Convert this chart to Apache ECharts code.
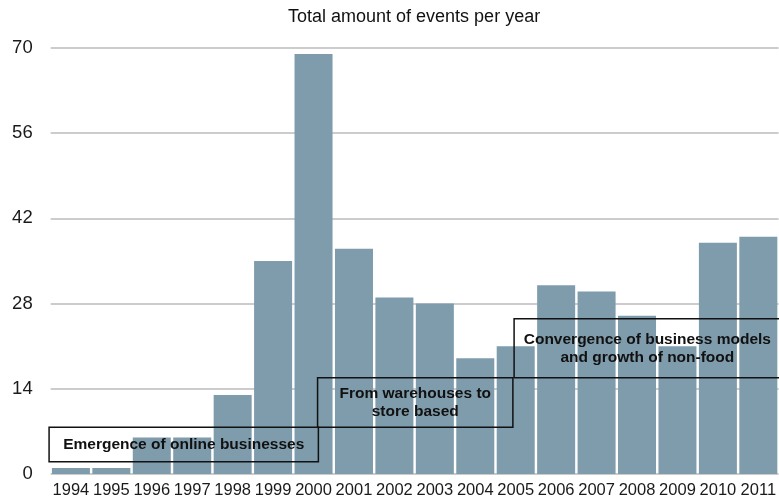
<!DOCTYPE html>
<html>
<head>
<meta charset="utf-8">
<script src="https://cdn.jsdelivr.net/npm/echarts@6/dist/echarts.min.js"></script>
<style>
  html, body { margin: 0; padding: 0; background: #fff; }
  #chart { width: 779px; height: 499px; }
</style>
</head>
<body>
<div id="chart"></div>
<script>
// Events per year
const years = ['1994','1995','1996','1997','1998','1999','2000','2001','2002','2003',
               '2004','2005','2006','2007','2008','2009','2010','2011'];
const events = [1, 1, 6, 6, 13, 35, 69, 37, 29, 28, 19, 21, 31, 30, 26, 21, 38, 39];
const yTicks = [0, 14, 28, 42, 56, 70];

// Phase boxes: span in category units (0 = centre of first year) and in event counts
const phaseLabels = [
  'Emergence of online businesses',
  'From warehouses to\nstore based',
  'Convergence of business models\nand growth of non-food'
];
const phaseStart = [-0.54, 6.1, 10.96];
const phaseEnd   = [6.12, 10.93, 17.55];
const phaseLow   = [2.0, 7.7, 15.8];
const phaseHigh  = [7.7, 15.8, 25.5];

const FONT = '"Liberation Sans", Arial, Helvetica, sans-serif';
const chart = echarts.init(document.getElementById('chart'), null, { renderer: 'canvas' });

chart.setOption({
  animation: false,
  backgroundColor: '#ffffff',
  title: {
    text: 'Total amount of events per year',
    left: 288,
    top: 8,
    padding: 0,
    textStyle: { fontFamily: FONT, fontSize: 18, fontWeight: 'normal', color: '#111', lineHeight: 18 }
  },
  grid: { left: 50.7, right: -2, top: 48, bottom: 25, containLabel: false },
  xAxis: {
    type: 'category',
    data: years,
    axisLine: { show: false },
    axisTick: { show: false },
    axisLabel: { fontFamily: FONT, fontSize: 16.5, color: '#1a1a1a', margin: 8, interval: 0 }
  },
  yAxis: {
    type: 'value',
    min: yTicks[0],
    max: yTicks[yTicks.length - 1],
    interval: yTicks[1] - yTicks[0],
    axisLine: { show: false },
    axisTick: { show: false },
    axisLabel: { fontFamily: FONT, fontSize: 18.5, color: '#1a1a1a', margin: 18 },
    splitLine: { lineStyle: { color: '#cccccc', width: 2 } }
  },
  series: [{
    type: 'bar',
    data: events,
    barCategoryGap: '6%',
    itemStyle: { color: '#7f9cac' }
  }]
});

// Phase annotation boxes placed through the axis scales
function catToPx(c) {
  const i0 = Math.floor(c);
  const p0 = chart.convertToPixel({ xAxisIndex: 0 }, 0);
  const p1 = chart.convertToPixel({ xAxisIndex: 0 }, 1);
  return p0 + c * (p1 - p0);
}
function valToPx(v) {
  return chart.convertToPixel({ yAxisIndex: 0 }, v);
}

const boxes = phaseLabels.map(function (label, k) {
  const x1 = catToPx(phaseStart[k]);
  const x2 = catToPx(phaseEnd[k]);
  const yTop = valToPx(phaseHigh[k]);
  const yBot = valToPx(phaseLow[k]);
  return {
    type: 'group',
    children: [
      {
        type: 'rect',
        shape: { x: x1, y: yTop, width: x2 - x1, height: yBot - yTop },
        style: { fill: 'rgba(0,0,0,0)', stroke: '#111', lineWidth: 1.5 },
        z: 10
      },
      {
        type: 'text',
        x: (x1 + x2) / 2,
        y: (yTop + yBot) / 2,
        style: {
          text: label,
          fontFamily: FONT,
          fontSize: 15.5,
          fontWeight: 'bold',
          fill: '#111',
          align: 'center',
          verticalAlign: 'middle',
          lineHeight: 18
        },
        z: 11
      }
    ]
  };
});

chart.setOption({ graphic: boxes });
</script>
</body>
</html>
